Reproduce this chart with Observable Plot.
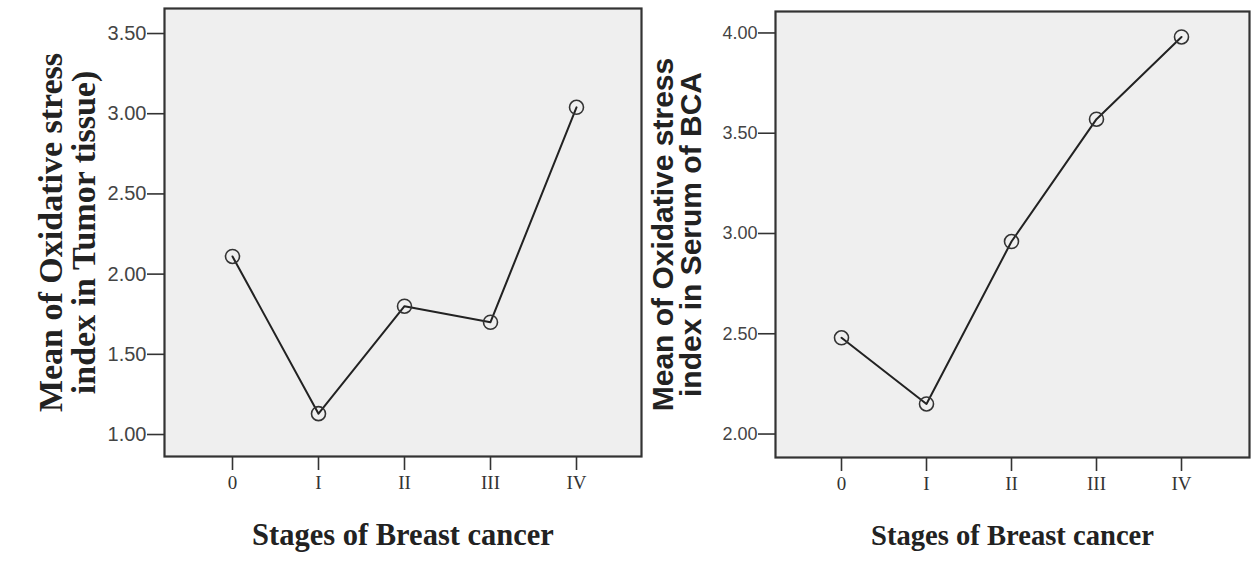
<!DOCTYPE html>
<html>
<head>
<meta charset="utf-8">
<script src="https://cdn.jsdelivr.net/npm/d3@7"></script>
<script src="https://cdn.jsdelivr.net/npm/@observablehq/plot@0.6"></script>
<style>
  html, body { margin: 0; padding: 0; background: #ffffff; }
  #wrap { position: relative; width: 1254px; height: 567px; overflow: hidden; }
  .panel { position: absolute; top: 0; }
</style>
</head>
<body>
<div id="wrap">
  <div class="panel" id="right" style="left:640px"></div>
  <div class="panel" id="left" style="left:0px"></div>
</div>
<script>
// ---- data ----
const stages = ["0", "I", "II", "III", "IV"];
const tumorMeans = [2.11, 1.13, 1.80, 1.70, 3.04];
const serumMeans = [2.48, 2.15, 2.96, 3.57, 3.98];
const tumorTicks = [1.0, 1.5, 2.0, 2.5, 3.0, 3.5];
const serumTicks = [2.0, 2.5, 3.0, 3.5, 4.0];
const xTitle = "Stages of Breast cancer";
const tumorYTitle = "Mean of Oxidative stress\nindex in Tumor tissue)";
const serumYTitle = "Mean of Oxidative stress\nindex in Serum of BCA";

const SERIF = "'Liberation Serif', 'Times New Roman', serif";
const SANS = "'Liberation Sans', Arial, sans-serif";

function panel(cfg) {
  const data = stages.map((s, i) => ({stage: s, value: cfg.values[i]}));
  return Plot.plot({
    width: cfg.width,
    height: 567,
    marginLeft: cfg.ml,
    marginRight: cfg.mr,
    marginTop: cfg.mt,
    marginBottom: cfg.mb,
    style: {background: "transparent", overflow: "visible"},
    x: {type: "point", domain: stages, padding: cfg.padding, align: cfg.align},
    y: {domain: cfg.ydomain},
    marks: [
      Plot.frame({fill: "#efefef", stroke: "none"}),
      Plot.axisY({
        ticks: cfg.ticks, tickFormat: d => d.toFixed(2), tickSize: 17, tickPadding: 1,
        fontSize: cfg.ytickSize, fontFamily: SANS, fill: "#444", stroke: "#333", strokeWidth: 1.6, label: null
      }),
      Plot.axisX({
        tickSize: 14, tickPadding: 5, fontSize: 19, fontFamily: SERIF, fill: "#333",
        stroke: "#333", strokeWidth: 1.6, label: null
      }),
      Plot.frame({stroke: "#333", strokeWidth: 2.2}),
      Plot.line(data, {x: "stage", y: "value", stroke: "#222", strokeWidth: 2}),
      Plot.dot(data, {x: "stage", y: "value", r: 7, stroke: "#333", strokeWidth: 1.6, fill: "none"}),
      Plot.text([cfg.ytitle], {
        frameAnchor: "left", dx: cfg.ytitleDx, rotate: -90, text: d => d,
        fontSize: cfg.ytitleSize, fontWeight: "bold", fontFamily: cfg.ytitleFont,
        lineHeight: cfg.ytitleLH, lineAnchor: "middle", textAnchor: "middle", fill: "#222"
      }),
      Plot.text([xTitle], {
        frameAnchor: "bottom", dy: cfg.xtitleDy, text: d => d,
        fontSize: cfg.xtitleSize, fontWeight: "bold", fontFamily: SERIF, fill: "#222", lineAnchor: "middle"
      })
    ]
  });
}

document.getElementById("left").appendChild(panel({
  width: 643, ml: 164, mr: 2, mt: 8, mb: 111,
  values: tumorMeans, ticks: tumorTicks, ydomain: [0.863, 3.656],
  padding: 0.754, align: 0.51, ytickSize: 20,
  ytitle: tumorYTitle, ytitleDx: -97, ytitleSize: 34, ytitleFont: SERIF, ytitleLH: 0.97,
  xtitleDy: 79, xtitleSize: 30.5
}));

document.getElementById("right").appendChild(panel({
  width: 614, ml: 135, mr: 5, mt: 11, mb: 110,
  values: serumMeans, ticks: serumTicks, ydomain: [1.883, 4.107],
  padding: 0.756, align: 0.49, ytickSize: 18,
  ytitle: serumYTitle, ytitleDx: -97, ytitleSize: 30, ytitleFont: SANS, ytitleLH: 0.93,
  xtitleDy: 78, xtitleSize: 28.6
}));
</script>
</body>
</html>
